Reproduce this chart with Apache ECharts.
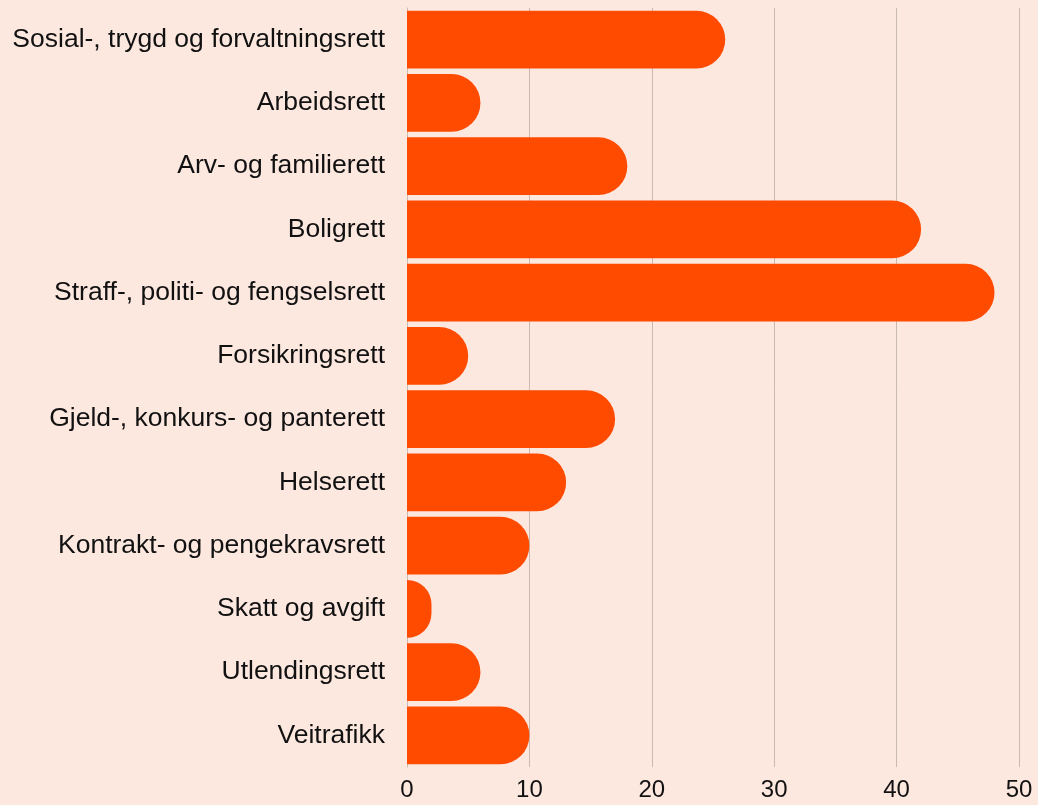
<!DOCTYPE html>
<html><head><meta charset="utf-8">
<script src="https://cdn.jsdelivr.net/npm/echarts@6/dist/echarts.min.js"></script>
<style>html,body{margin:0;padding:0;background:#fde8e0;}#c{width:1038px;height:805px;}</style>
</head><body><div id="c"></div>
<script>
const categories = ["Sosial-, trygd og forvaltningsrett","Arbeidsrett","Arv- og familierett","Boligrett","Straff-, politi- og fengselsrett","Forsikringsrett","Gjeld-, konkurs- og panterett","Helserett","Kontrakt- og pengekravsrett","Skatt og avgift","Utlendingsrett","Veitrafikk"];
const values = [26,6,18,42,48,5,17,13,10,2,6,10];
const xTicks = [0,10,20,30,40,50];

const chart = echarts.init(document.getElementById('c'), null, {renderer:'canvas'});
chart.setOption({
  backgroundColor:'#fde8e0',
  animation:false,
  grid:{left:407,right:19,top:8,bottom:38,containLabel:false},
  xAxis:{type:'value',min:xTicks[0],max:xTicks[xTicks.length-1],interval:10,
    axisLine:{show:false},axisTick:{show:false},
    axisLabel:{fontFamily:'Liberation Sans',fontSize:24,color:'#111',margin:11},
    splitLine:{show:true,lineStyle:{color:'#c9b9b3',width:1}}},
  yAxis:{type:'category',data:categories,inverse:true,
    axisLine:{show:true,lineStyle:{color:'#c9b9b3',width:1}},axisTick:{show:false},
    axisLabel:{fontFamily:'Liberation Sans',fontSize:26.5,color:'#111',margin:22}},
  series:[{type:'bar',data:values,barCategoryGap:'8.5%',
    itemStyle:{color:'#fe4b00',borderRadius:[0,29,29,0]}}]
});
</script></body></html>
